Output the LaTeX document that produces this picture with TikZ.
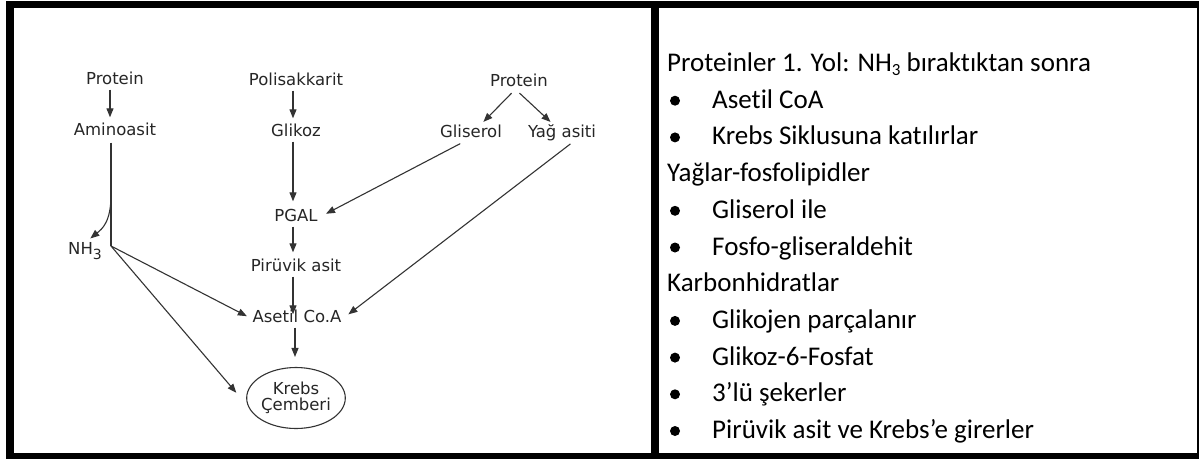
\documentclass[tikz,border=0pt]{standalone}
\usepackage{fontspec}
\setmainfont{Carlito}[Ligatures=NoCommon]
\newfontfamily\diafont{DejaVu Sans}
\usetikzlibrary{arrows.meta,shapes.geometric}

\begin{document}
\begin{tikzpicture}[x=1pt,y=-1pt,
  lbl/.style={font=\diafont\fontsize{16.5}{18}\selectfont, text=black!85,
    inner sep=2pt, text height=12pt, text depth=3pt, anchor=center},
  conn/.style={draw=black!80, line width=1.1pt},
  flow/.style={conn, -{Triangle[length=9pt,width=7pt]}},
  rtext/.style={font=\fontsize{27}{32}\selectfont, anchor=base west, inner sep=0pt},
  bul/.style={fill=black}
]
% page and table frame
\fill[white] (0,0) rectangle (1199,459);
\useasboundingbox (0,0) rectangle (1199,459);
\fill (6,1) rectangle (1199,8);
\fill (6,1) rectangle (14,459);
\fill (6,453) rectangle (1199,459);
\fill (651,1) rectangle (659,459);
\fill (1197,1) rectangle (1199,459);

% metabolic pathway labels
\node[lbl] (prA)   at (115,80)  {Protein};
\node[lbl] (amino) at (115,131) {Aminoasit};
\node[lbl] (poli)  at (296,81)  {Polisakkarit};
\node[lbl] (glk)   at (296,132) {Glikoz};
\node[lbl] (pgal)  at (296,217) {PGAL};
\node[lbl] (piru)  at (296,267) {Pirüvik asit};
\node[lbl] (acoa)  at (297,318) {Asetil Co.A};
\node[lbl] (prB)   at (519,82)  {Protein};
\node[lbl] (glis)  at (471,133) {Gliserol};
\node[lbl] (yag)   at (562,133) {Yağ asiti};
\node[lbl] (nh)    at (85,250)  {NH\raisebox{-5pt}{\fontsize{14}{14}\selectfont 3}};
\node[ellipse, conn, minimum width=75pt, minimum height=61pt, inner sep=0pt,
      align=center, text=black!85, font=\diafont\fontsize{16.5}{16}\selectfont]
      (krebs) at (296,398) {Krebs\\Çemberi};

\coordinate (split) at (111,195);
\coordinate (junc)  at (111,246);

% connectors
\draw[flow, shorten >=4pt] ([xshift=-5pt]prA.south) -- ([xshift=-5pt]amino.north);
\draw[flow, shorten >=4pt] ([xshift=-3pt]poli.south) -- ([xshift=-3pt]glk.north);
\draw[flow, shorten >=6pt] ([xshift=-3pt]glk.south) -- ([xshift=-3pt]pgal.north);
\draw[flow, shorten >=5pt] ([xshift=-3pt]pgal.south) -- ([xshift=-3pt]piru.north);
\draw[flow, shorten >=-6pt] ([xshift=-3pt]piru.south) -- ([xshift=-4pt]acoa.north);
\draw[flow, shorten >=10pt] ([xshift=-2pt]acoa.south) -- ([xshift=-1pt]krebs.north);
\draw[flow, shorten <=2pt, shorten >=2pt] ([xshift=-6pt]prB.south) -- ([xshift=11pt]glis.north);
\draw[flow, shorten <=2pt, shorten >=2pt] ([xshift=-1pt]prB.south) -- ([xshift=-10pt]yag.north);
\draw[flow, shorten <=2pt, shorten >=7pt] ([xshift=-9pt]glis.south) -- (pgal.east);
\draw[flow, shorten <=2pt, shorten >=6pt] ([xshift=10pt]yag.south) -- (acoa.east);
\draw[conn, shorten <=2pt] ([xshift=-4pt]amino.south) -- (junc);
\draw[flow, shorten >=3pt] (split) .. controls (111,222) and (102,229) .. ([xshift=3pt]nh.north);
\draw[flow, shorten >=4pt] (junc) -- (acoa.west);
\draw[flow, shorten >=18pt] (junc) -- (krebs.190);

% summary list
\node[rtext] (t0)  at (667,71.5)  {Proteinler 1. Yol: NH\raisebox{-4pt}{\fontsize{17}{17}\selectfont 3} bıraktıktan sonra};
\node[rtext] (t1)  at (712,108.2) {Asetil CoA};
\node[rtext] (t2)  at (712,144.9) {Krebs Siklusuna katılırlar};
\node[rtext] (t3)  at (667,181.6) {Yağlar-fosfolipidler};
\node[rtext] (t4)  at (712,218.3) {Gliserol ile};
\node[rtext] (t5)  at (712,255.0) {Fosfo-gliseraldehit};
\node[rtext] (t6)  at (667,291.7) {Karbonhidratlar};
\node[rtext] (t7)  at (712,328.4) {Glikojen parçalanır};
\node[rtext] (t8)  at (712,365.1) {Glikoz-6-Fosfat};
\node[rtext] (t9)  at (712,401.8) {3’lü şekerler};
\node[rtext] (t10) at (712,438.5) {Pirüvik asit ve Krebs’e girerler};

\foreach \b in {108.2,144.9,218.3,255.0,328.4,365.1,401.8,438.5}
  \fill[bul] (675,\b-7.5) circle (5pt);
\end{tikzpicture}
\end{document}
